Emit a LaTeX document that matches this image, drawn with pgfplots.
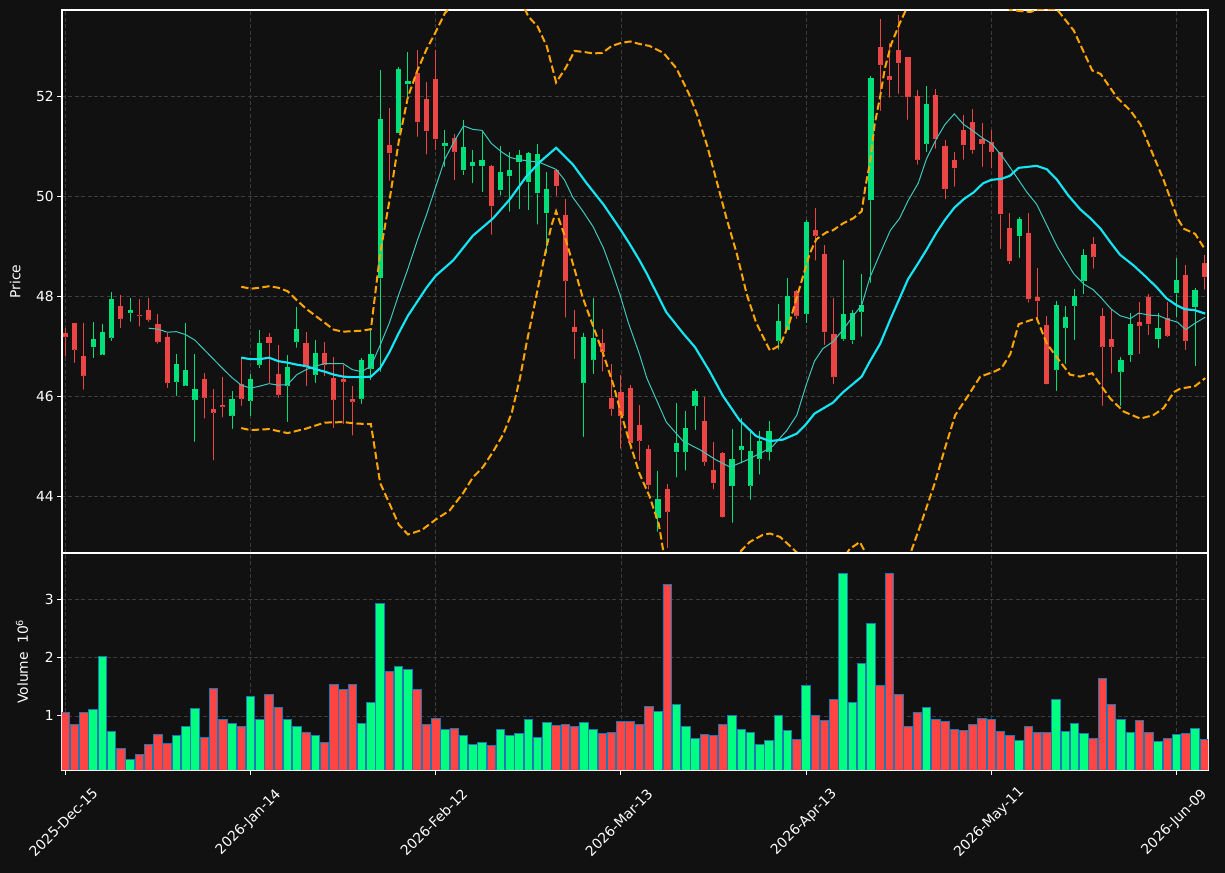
\documentclass[border=0pt]{standalone}
\usepackage{fontspec}
\setmainfont{DejaVu Sans}
\usepackage{pgfplots}
\usepackage{pgfplotstable}
\pgfplotsset{compat=1.18}
\definecolor{bg}{HTML}{111111}
\definecolor{cup}{HTML}{00E07A}
\definecolor{cdn}{HTML}{EB4545}
\definecolor{vup}{HTML}{00FF80}
\definecolor{vdn}{HTML}{FF4444}
\definecolor{vedge}{HTML}{1F77B4}
\definecolor{gridc}{HTML}{3C3C3C}
\definecolor{mathin}{HTML}{40C8BE}
\definecolor{mathick}{HTML}{14E6F5}
\definecolor{bbc}{HTML}{FFA500}

\pgfplotstableread{
i o h l c v
3 46.98 47.48 46.76 47.14 1.114
4 46.83 47.44 46.83 47.29 2.023
5 47.17 48.09 47.10 47.95 0.737
7 47.67 47.97 47.49 47.73 0.257
12 46.29 46.84 46.00 46.65 0.669
13 46.21 47.46 46.21 46.52 0.823
14 45.93 46.84 45.09 46.15 1.131
18 45.61 46.10 45.34 45.94 0.874
20 45.91 46.44 45.59 46.34 1.337
21 46.63 47.32 46.56 47.07 0.943
24 46.21 46.82 45.48 46.59 0.943
25 47.09 47.78 46.97 47.34 0.823
27 46.43 47.12 46.26 46.86 0.669
32 45.95 46.77 45.84 46.72 0.874
33 46.55 47.37 46.32 46.84 1.234
34 48.36 52.53 46.49 51.54 2.931
36 51.26 52.59 51.26 52.54 1.851
37 52.24 52.89 51.92 52.30 1.800
41 51.01 51.33 50.59 51.07 0.771
43 50.52 51.53 50.42 50.98 0.669
44 50.60 50.93 50.26 50.68 0.514
45 50.60 51.28 50.08 50.73 0.549
47 50.12 51.01 50.01 50.49 0.771
48 50.40 50.88 49.69 50.52 0.669
49 50.68 50.93 49.74 50.83 0.703
50 50.28 50.89 49.72 50.86 0.943
51 50.06 51.05 49.43 50.84 0.634
52 49.66 50.48 48.85 50.15 0.891
56 46.27 47.26 45.18 47.18 0.891
57 46.73 47.97 46.44 47.17 0.771
64 43.56 44.51 43.29 43.94 1.080
66 44.88 45.86 44.37 45.06 1.200
67 44.89 45.70 44.51 45.36 0.823
68 45.81 46.15 45.32 46.10 0.617
72 44.20 45.34 43.47 44.74 1.011
73 44.93 45.57 44.65 45.00 0.771
74 44.21 45.35 43.92 44.91 0.720
75 44.75 45.31 44.43 45.10 0.514
76 44.89 45.50 44.71 45.30 0.583
77 47.11 47.84 46.93 47.50 1.011
78 47.32 48.36 47.32 48.01 0.754
80 47.65 49.52 47.46 49.49 1.526
84 47.14 48.72 47.10 47.64 3.446
85 47.12 47.72 47.04 47.66 1.234
86 47.69 48.45 47.19 47.82 1.903
87 49.92 52.40 48.27 52.36 2.589
93 51.05 52.21 50.88 51.84 1.149
103 49.20 49.58 48.77 49.55 0.583
107 46.53 47.90 46.10 47.83 1.286
108 47.37 47.80 46.64 47.59 0.737
109 47.81 48.14 47.12 48.01 0.874
110 48.31 48.94 48.04 48.83 0.703
114 46.49 46.78 45.80 46.72 0.943
115 46.83 47.66 46.68 47.45 0.720
118 47.14 47.66 46.96 47.37 0.566
120 48.06 48.76 47.57 48.33 0.686
122 47.78 48.17 46.60 48.13 0.789
}\upT

\pgfplotstableread{
i o h l c v
0 47.26 47.37 46.79 47.19 1.063
1 47.46 47.47 46.66 46.93 0.857
2 46.81 47.46 46.13 46.41 1.063
6 47.80 48.02 47.36 47.55 0.446
8 47.63 47.94 47.39 47.62 0.343
9 47.73 47.97 47.48 47.53 0.514
10 47.45 47.64 47.05 47.09 0.686
11 47.18 47.26 46.16 46.27 0.531
15 46.34 46.46 45.55 45.97 0.634
16 45.74 46.14 44.71 45.67 1.474
17 45.83 46.38 45.57 45.79 0.943
19 46.24 46.79 45.80 45.95 0.823
22 47.18 47.27 46.25 47.06 1.371
23 46.45 47.02 45.96 46.03 1.149
26 47.07 47.28 46.20 46.60 0.720
28 46.86 47.08 46.40 46.63 0.549
29 46.36 46.79 45.36 45.93 1.543
30 46.34 46.63 45.44 46.29 1.457
31 45.94 46.20 45.21 45.89 1.543
35 51.02 51.77 50.31 50.86 1.766
38 52.46 52.92 51.19 51.48 1.457
39 51.94 52.29 50.83 51.30 0.857
40 52.34 52.92 50.92 51.14 0.960
42 51.16 51.25 50.32 50.89 0.789
46 50.61 50.62 49.23 49.80 0.497
53 50.52 50.55 50.01 50.20 0.840
54 49.63 49.94 47.57 48.31 0.857
55 47.39 47.72 46.74 47.28 0.823
58 47.07 47.34 46.49 46.89 0.703
59 45.97 46.64 45.60 45.75 0.720
60 46.08 46.43 44.95 45.61 0.909
61 46.16 46.22 44.93 45.07 0.909
62 45.42 45.82 44.70 45.11 0.857
63 44.94 45.02 44.13 44.22 1.166
65 44.14 44.24 42.95 43.69 3.257
69 45.51 45.99 44.60 44.69 0.686
70 44.52 45.08 44.13 44.26 0.669
71 44.86 44.88 43.56 43.58 0.857
79 48.11 48.12 47.54 47.61 0.600
81 49.33 49.76 48.71 49.21 1.011
82 48.85 49.02 47.02 47.28 0.926
83 47.25 47.96 46.24 46.39 1.286
88 52.98 53.55 51.71 52.63 1.526
89 52.40 53.07 51.97 52.33 3.446
90 52.92 53.62 52.05 52.67 1.371
91 52.78 52.79 51.53 51.99 0.823
92 52.00 52.13 50.63 50.73 1.063
94 52.02 52.15 50.95 51.14 0.943
95 51.00 51.13 49.94 50.15 0.909
96 50.72 50.89 50.19 50.56 0.771
97 51.32 51.62 50.73 51.02 0.754
98 51.48 51.74 50.85 50.92 0.857
99 51.14 51.47 50.59 51.05 0.960
100 51.09 51.33 50.56 50.89 0.943
101 50.88 50.89 48.94 49.64 0.737
102 49.37 49.66 48.64 48.70 0.669
104 49.26 49.67 47.87 47.94 0.823
105 47.99 48.56 47.46 47.90 0.720
106 47.43 47.61 46.23 46.24 0.720
111 49.05 49.18 48.55 48.79 0.617
112 47.61 47.76 45.80 46.99 1.646
113 47.15 47.74 46.45 46.99 1.200
116 47.48 47.88 46.84 47.41 0.926
117 47.99 48.04 47.22 47.44 0.720
119 47.57 47.88 47.18 47.21 0.617
121 48.43 48.62 46.92 47.11 0.703
123 48.67 48.82 48.13 48.38 0.600
}\dnT

\pgfplotsset{
  common/.style={
    scale only axis, width=859.5pt,
    xmin=-0.36, xmax=123.4,
    axis background/.style={fill=bg},
    axis line style={white, line width=0.8pt},
    tick style={white, line width=0.8pt},
    tick align=outside,
    major tick length=3.7pt,
    xtick={0,20,40,60,80,100,120},
    ytick pos=left, xtick pos=bottom,
    grid=major,
    major grid style={gridc, dash pattern=on 3pt off 1.8pt, line width=0.6pt},
    ticklabel style={font=\fontsize{10.4}{12}\selectfont, text=white},
    label style={font=\fontsize{10.4}{12}\selectfont, text=white},
    /pgf/number format/assume math mode=true,
    yticklabel style={xshift=1pt},
  },
  wick/.style={only marks, mark=*, mark size=0.01pt, mark options={draw=none, fill=none}, forget plot,
    error bars/.cd, y dir=plus, y explicit, error mark=none,
    error bar style={draw=#1, line width=0.75pt}},
  body/.style={only marks, mark=*, mark size=0.01pt, mark options={draw=none, fill=none}, forget plot,
    error bars/.cd, y dir=plus, y explicit, error mark=none,
    error bar style={draw=#1, line width=3.9pt}},
}

\begin{document}
\begin{tikzpicture}
\fill[bg] (0,0) rectangle (918.75pt,654.75pt);

\begin{axis}[common,
  at={(46.5pt,240pt)}, anchor=south west, height=407.25pt,
  ymin=42.86, ymax=53.73, ytick={44,46,48,50,52},
  xticklabels={}, xtick style={draw=none},
  ylabel={Price},
  ylabel style={at={(axis description cs:-0.032,0.5)}, anchor=south, rotate=0},
]
\addplot[wick=cup] table[x=i, y=l, y error plus expr=\thisrow{h}-\thisrow{l}] \upT;
\addplot[wick=cdn] table[x=i, y=l, y error plus expr=\thisrow{h}-\thisrow{l}] \dnT;
\addplot[body=cup] table[x=i, y=o, y error plus expr=\thisrow{c}-\thisrow{o}] \upT;
\addplot[body=cdn] table[x=i, y=c, y error plus expr=\thisrow{o}-\thisrow{c}] \dnT;

% thin moving average
\addplot[mathin, line width=0.75pt] coordinates {
(9,47.36)(10,47.34)(11,47.28)(12,47.29)(13,47.23)(14,47.12)(15,46.93)(16,46.74)(17,46.55)(18,46.37)(19,46.22)(20,46.16)(21,46.20)(22,46.25)(23,46.22)(24,46.23)(25,46.43)(26,46.53)(27,46.60)(28,46.65)(29,46.65)(30,46.65)(31,46.53)(32,46.49)(33,46.60)(34,47.02)(35,47.47)(36,48.03)(37,48.55)(38,49.11)(39,49.63)(40,50.19)(41,50.75)(42,51.1)(43,51.41)(44,51.34)(45,51.32)(46,51.06)(47.1,50.89)(48,50.78)(49.1,50.73)(51.2,50.68)(53,50.54)(53.9,50.33)(54.8,49.98)(55.9,49.70)(57,49.39)(58.1,48.97)(59,48.52)(59.9,48.03)(60.8,47.47)(62,46.84)(62.8,46.36)(64.9,45.48)(66.7,45.10)(68.5,44.93)(70.3,44.72)(71.8,44.58)(73.6,44.72)(75.4,44.89)(76.4,45.0)(77.9,45.31)(79,45.62)(80,46.22)(80.9,46.70)(81.8,46.95)(82.9,47.09)(84,47.33)(85.1,47.61)(86,47.82)(86.9,48.38)(88,48.86)(89.1,49.32)(90.1,49.56)(91,49.91)(92.1,50.26)(93,50.75)(94.1,51.16)(95,51.44)(96,51.65)(97,51.44)(98.1,51.30)(99.1,51.16)(100,51.06)(101.1,50.82)(102.05,50.57)(103.85,50.08)(104.9,49.84)(106,49.42)(107.1,49.0)(108,48.72)(108.9,48.45)(110,48.24)(111,48.13)(111.9,47.96)(112.9,47.75)(113.9,47.61)(115,47.55)(115.9,47.66)(117.2,47.62)(118.1,47.61)(119,47.54)(120.1,47.48)(121,47.33)(122,47.46)(123.1,47.58)
};
% thick moving average
\addplot[mathick, line width=1.6pt] coordinates {
(19,46.77)(20,46.74)(21,46.74)(22,46.77)(23,46.70)(24,46.67)(25,46.63)(26,46.60)(27,46.54)(28,46.49)(29,46.43)(30,46.39)(31,46.38)(32,46.38)(33,46.39)(34,46.56)(35,46.88)(36,47.26)(37,47.61)(38,47.89)(39,48.17)(40,48.41)(41.9,48.72)(44,49.21)(46.2,49.56)(48,49.94)(49.8,50.40)(51.2,50.68)(53,50.97)(54.8,50.64)(56.3,50.26)(58.1,49.84)(59.9,49.35)(61,49.03)(62,48.72)(62.8,48.45)(64.9,47.68)(66.7,47.26)(68,46.98)(69.6,46.49)(71,46.01)(72.8,45.52)(74.6,45.20)(76.1,45.10)(77.5,45.13)(79,45.25)(80,45.44)(80.9,45.65)(82.9,45.87)(84,46.08)(85.1,46.25)(86,46.39)(86.9,46.70)(88,47.05)(89.1,47.54)(90.1,47.96)(91,48.34)(92.1,48.66)(93,48.93)(94.1,49.28)(95,49.53)(96,49.77)(97,49.94)(98.1,50.08)(99.1,50.26)(100,50.33)(101.1,50.35)(102,50.41)(102.95,50.57)(104.9,50.61)(106,50.54)(107.1,50.33)(108.3,50.02)(109.6,49.74)(110.7,49.56)(111.8,49.35)(112.9,49.07)(113.9,48.83)(115.4,48.61)(116.8,48.37)(117.9,48.17)(118.9,47.96)(120,47.82)(120.9,47.74)(122,47.72)(123.1,47.65)
};
% upper band
\addplot[bbc, line width=1.5pt, dash pattern=on 5.5pt off 2.5pt] coordinates {
(19,48.19)(20,48.15)(21,48.17)(22,48.20)(23,48.17)(24,48.10)(25,47.92)(26,47.75)(27,47.61)(28,47.47)(29,47.33)(30,47.29)(31,47.30)(32,47.31)(33,47.34)(34,48.86)(35,49.91)(36,51.09)(37,51.99)(38,52.51)(39,52.94)(40,53.29)(41,53.67)(42,53.85)(43,54.0)(44,54.1)(45,54.2)(46,54.25)(47,54.3)(48,54.25)(49,54.0)(50,53.6)(51,53.4)(52,53.0)(53,52.28)(54,52.56)(55,52.91)(56,52.89)(57,52.86)(58,52.87)(59,53.01)(60,53.07)(61,53.10)(62,53.05)(63.1,53.01)(64.6,52.87)(66,52.56)(67.3,52.07)(68.2,51.65)(69.3,51.02)(70.3,50.33)(71.4,49.56)(72.5,48.86)(73.6,48.03)(74.6,47.47)(76.1,46.91)(77.2,47.02)(78.2,47.47)(79.3,48.17)(80.4,48.86)(81.1,49.14)(82.2,49.28)(82.9,49.32)(84,49.46)(85.1,49.56)(86,49.70)(86.4,50.19)(86.9,50.68)(87.4,51.44)(88,52.0)(88.5,52.56)(89.2,53.05)(90.1,53.46)(90.8,53.74)(92,54.0)(94,54.2)(96,54.0)(98,54.0)(100,54.1)(101,54.0)(102.05,53.73)(104.2,53.69)(105.1,53.74)(107.1,53.74)(108.9,53.32)(110.9,52.52)(111.8,52.45)(113.6,51.97)(115,51.72)(116.1,51.44)(117.2,50.95)(118.6,50.33)(120.1,49.56)(120.8,49.35)(122,49.25)(123.1,48.93)
};
% lower band
\addplot[bbc, line width=1.5pt, dash pattern=on 5.5pt off 2.5pt] coordinates {
(19,45.36)(20,45.32)(22,45.34)(24,45.26)(26,45.35)(28,45.47)(30,45.48)(31.5,45.45)(33,45.44)(34,44.26)(35,43.85)(36,43.43)(37,43.23)(38.5,43.32)(40,43.53)(41.5,43.71)(42.96,44.06)(44,44.37)(45.1,44.58)(46.2,44.89)(47.3,45.24)(48.2,45.66)(49.1,46.36)(49.8,47.05)(50.5,47.68)(51.2,48.31)(51.9,48.93)(52.5,49.42)(53,49.70)(53.8,49.28)(54.8,48.66)(55.9,47.96)(57,47.40)(58.1,46.84)(59.2,46.22)(60,45.66)(60.9,45.10)(62,44.45)(63.1,43.99)(64.1,43.43)(64.6,42.87)(66,41.96)(67.3,42.03)(68.2,42.25)(69.3,42.18)(70.3,42.17)(71.4,42.24)(72.8,42.87)(73.9,43.08)(75.3,43.22)(76.1,43.25)(77.2,43.18)(78.2,43.01)(79,42.87)(80.4,42.3)(82.2,42.3)(83.5,42.6)(84.7,42.94)(85.8,43.08)(86.4,42.87)(88,42.1)(89,42.1)(90,42.46)(91.3,42.87)(92.5,43.50)(93.9,44.26)(95,44.96)(96.1,45.62)(97.5,46.01)(98.8,46.39)(100.3,46.49)(101.1,46.56)(102.05,46.84)(102.95,47.44)(104.9,47.56)(106,47.05)(107.1,46.77)(108.5,46.43)(109.6,46.39)(110.9,46.46)(111.8,46.22)(112.9,45.94)(114.3,45.69)(116.1,45.55)(117.5,45.62)(118.6,45.76)(119.7,46.08)(120.4,46.15)(122,46.20)(123.1,46.36)
};
\end{axis}

\begin{axis}[common,
  at={(46.5pt,77.25pt)}, anchor=south west, height=162.75pt,
  ymin=0.074, ymax=3.79, ytick={1,2,3},
  xticklabels={2025-Dec-15,2026-Jan-14,2026-Feb-12,2026-Mar-13,2026-Apr-13,2026-May-11,2026-Jun-09},
  xticklabel style={yshift=-35.6pt, xshift=-1.5pt, rotate=45, anchor=center},
  ylabel={Volume\hspace{0.6em}10\textsuperscript{6}},
  ylabel style={at={(axis description cs:-0.0255,0.5)}, anchor=south, rotate=0},
]
\addplot[ybar, bar width=0.92, bar shift=0pt, fill=vup, draw=vedge, line width=0.7pt] table[x=i, y=v] \upT;
\addplot[ybar, bar width=0.92, bar shift=0pt, fill=vdn, draw=vedge, line width=0.7pt] table[x=i, y=v] \dnT;
\end{axis}
\end{tikzpicture}
\end{document}
